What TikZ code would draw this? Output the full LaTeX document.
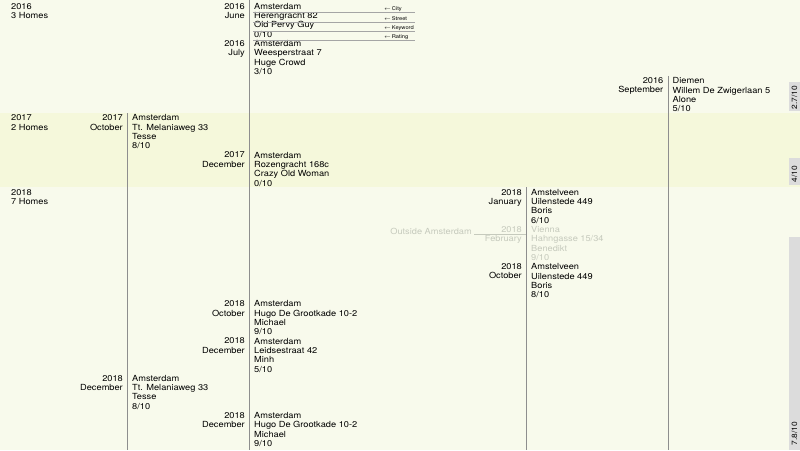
\documentclass[tikz,border=0pt]{standalone}
\usepackage{fontspec}
\setmainfont{TeX Gyre Heros}[FakeStretch=1.1]
\usepackage{xcolor}
\usepackage{tikz}
\usetikzlibrary{positioning}
\definecolor{paper}{HTML}{F8FAEC}
\definecolor{band}{HTML}{F5F8DB}
\definecolor{ruleg}{HTML}{8E8E8E}
\definecolor{faded}{HTML}{C6CABD}
\definecolor{scorebg}{HTML}{DCDCDC}
\definecolor{ink}{HTML}{000000}
\tikzset{
  entry/.style={anchor=north west, align=left, inner sep=0pt, text=ink,
                font=\fontsize{8.4}{9.3}\selectfont,
                execute at begin node=\rule{0pt}{7.6pt}},
  datelbl/.style={entry, anchor=north east, align=right},
  yearlbl/.style={entry},
  fadedentry/.style={entry, text=faded},
  fadeddate/.style={datelbl, text=faded},
  colline/.style={draw=ruleg, line width=0.8pt},
  legendline/.style={draw=ruleg!80, line width=0.5pt},
  legendlbl/.style={anchor=base west, inner sep=0pt, text=ink,
                    font=\fontsize{5.2}{6}\selectfont},
  fadedline/.style={draw=faded, line width=0.6pt},
  scoretxt/.style={rotate=90, anchor=west, inner sep=0pt, text=ink,
                   font=\fontsize{7.6}{9}\selectfont},
}

\begin{document}
\begin{tikzpicture}[x=1pt, y=-1pt]
  \useasboundingbox (0,0) rectangle (800,450);
  \fill[paper] (0,0) rectangle (800,450);
  \fill[band] (0,113) rectangle (800,187.4);

  % column rules
  \coordinate (bot) at (0,450);
  \coordinate (c1top) at (127,113);
  \coordinate (c2top) at (249,0);
  \coordinate (c3top) at (526,187.4);
  \coordinate (c4top) at (668,75.8);
  \draw[colline] (c1top) -- (c1top |- bot);
  \draw[colline] (c2top) -- (c2top |- bot);
  \draw[colline] (c3top) -- (c3top |- bot);
  \draw[colline] (c4top) -- (c4top |- bot);

  % score bars
  \fill[scorebg] (789,82) rectangle (800,111);
  \fill[scorebg] (789,158) rectangle (800,185);
  \fill[scorebg] (789,237) rectangle (800,450);
  \node[scoretxt] (sc16) at (794.5,109.5) {2.7/10};
  \node[scoretxt] (sc17) at (794.5,182.5) {4/10};
  \node[scoretxt] (sc18) at (794.5,445.5) {7.8/10};

  % 2016
  \node[yearlbl] (y16) at (11,3) {2016\\3 Homes};
  \node[entry] (jun16) at (254,3) {Amsterdam\\Herengracht 82\\Old Pervy Guy\\0/10};
  \node[datelbl, left=9pt of jun16.north west, anchor=north east] (jun16d) {2016\\June};
  \node[entry] (jul16) at (254,40.2) {Amsterdam\\Weesperstraat 7\\Huge Crowd\\3/10};
  \node[datelbl, left=9pt of jul16.north west, anchor=north east] (jul16d) {2016\\July};
  \node[entry] (sep16) at (672.5,77.4) {Diemen\\Willem De Zwigerlaan 5\\Alone\\5/10};
  \node[datelbl, left=9pt of sep16.north west, anchor=north east] (sep16d) {2016\\September};

  % legend
  \draw[legendline] (253,12.5) -- (415,12.5);
  \draw[legendline] (253,21.8) -- (415,21.8);
  \draw[legendline] (253,31.1) -- (415,31.1);
  \draw[legendline] (253,40.4) -- (415,40.4);
  \node[legendlbl] (lcity) at (384,10.8) {$\leftarrow$\,City};
  \node[legendlbl] (lstreet) at (384,20.1) {$\leftarrow$\,Street};
  \node[legendlbl] (lkey) at (384,29.4) {$\leftarrow$\,Keyword};
  \node[legendlbl] (lrate) at (384,38.7) {$\leftarrow$\,Rating};

  % 2017
  \node[yearlbl] (y17) at (11,114.6) {2017\\2 Homes};
  \node[entry] (oct17) at (132,114.6) {Amsterdam\\Tt. Melaniaweg 33\\Tesse\\8/10};
  \node[datelbl, left=9pt of oct17.north west, anchor=north east] (oct17d) {2017\\October};
  \node[entry] (dec17) at (254,151.8) {Amsterdam\\Rozengracht 168c\\Crazy Old Woman\\0/10};
  \node[datelbl, left=9pt of dec17.north west, anchor=north east] (dec17d) {2017\\December};

  % 2018
  \node[yearlbl] (y18) at (11,189) {2018\\7 Homes};
  \node[entry] (jan18) at (531,189) {Amstelveen\\Uilenstede 449\\Boris\\6/10};
  \node[datelbl, left=9pt of jan18.north west, anchor=north east] (jan18d) {2018\\January};
  \node[fadedentry] (feb18) at (531,226.2) {Vienna\\Hahngasse 15/34\\Benedikt\\9/10};
  \node[fadeddate, left=9pt of feb18.north west, anchor=north east] (feb18d) {2018\\February};
  \node[fadedentry, anchor=north east] (outside) at (472,226.2) {Outside Amsterdam};
  \coordinate (ol) at ([xshift=2pt, yshift=-0.6pt]outside.base east);
  \draw[fadedline] (ol) -- (ol -| c3top);
  \node[entry] (oct18a) at (531,263.4) {Amstelveen\\Uilenstede 449\\Boris\\8/10};
  \node[datelbl, left=9pt of oct18a.north west, anchor=north east] (oct18ad) {2018\\October};
  \node[entry] (oct18b) at (254,300.6) {Amsterdam\\Hugo De Grootkade 10-2\\Michael\\9/10};
  \node[datelbl, left=9pt of oct18b.north west, anchor=north east] (oct18bd) {2018\\October};
  \node[entry] (dec18a) at (254,337.8) {Amsterdam\\Leidsestraat 42\\Minh\\5/10};
  \node[datelbl, left=9pt of dec18a.north west, anchor=north east] (dec18ad) {2018\\December};
  \node[entry] (dec18b) at (132,375) {Amsterdam\\Tt. Melaniaweg 33\\Tesse\\8/10};
  \node[datelbl, left=9pt of dec18b.north west, anchor=north east] (dec18bd) {2018\\December};
  \node[entry] (dec18c) at (254,412.2) {Amsterdam\\Hugo De Grootkade 10-2\\Michael\\9/10};
  \node[datelbl, left=9pt of dec18c.north west, anchor=north east] (dec18cd) {2018\\December};
\end{tikzpicture}
\end{document}
